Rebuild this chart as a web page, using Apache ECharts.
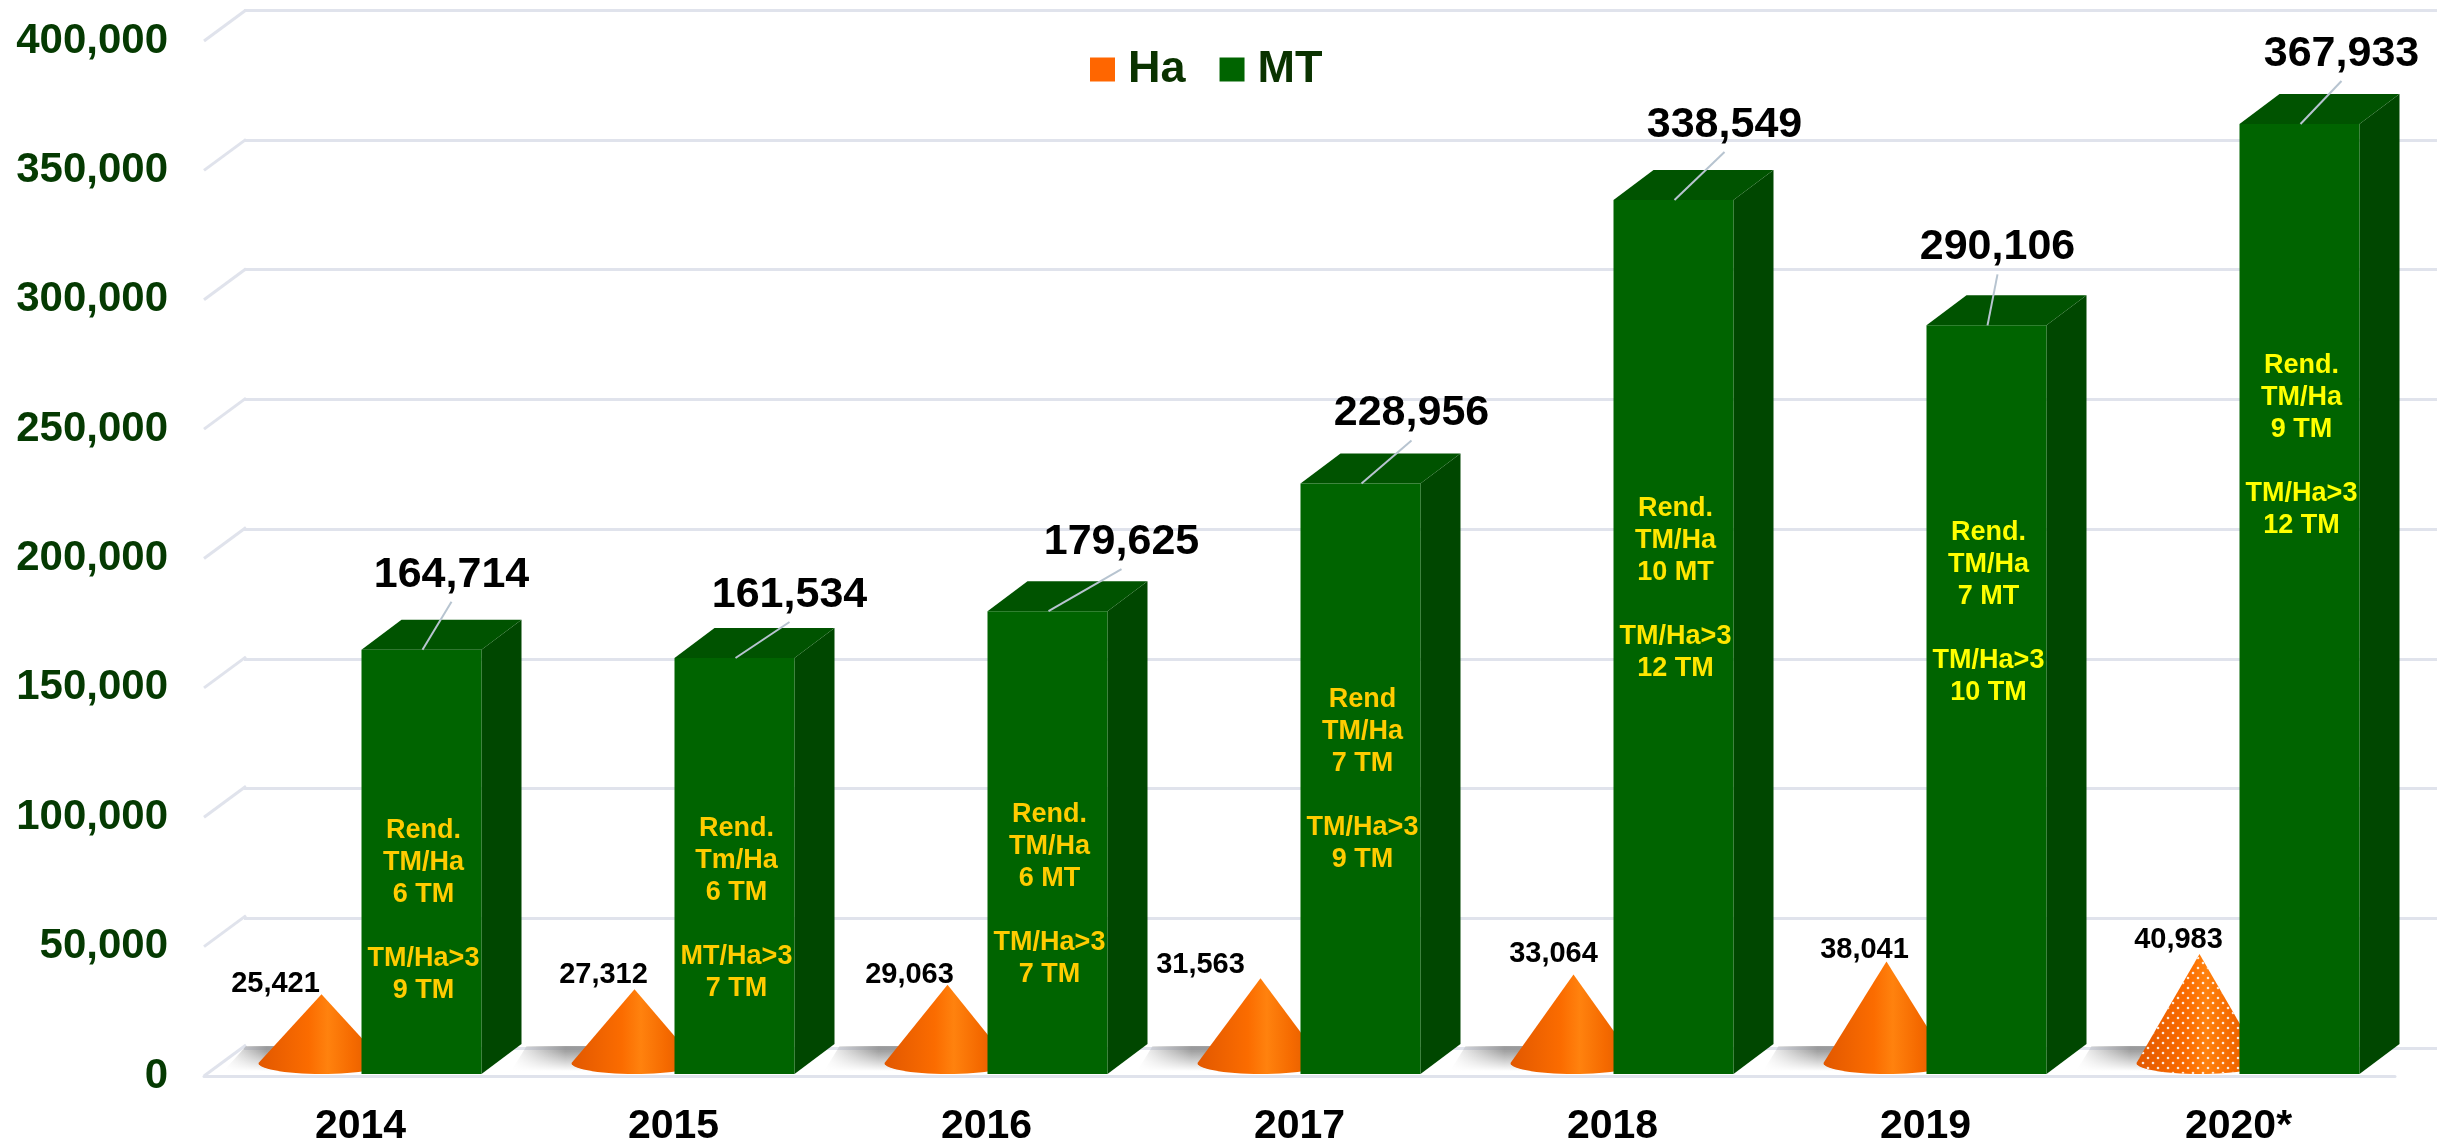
<!DOCTYPE html>
<html>
<head>
<meta charset="utf-8">
<script src="https://cdn.jsdelivr.net/npm/echarts@6/dist/echarts.min.js"></script>
<style>
  html,body{margin:0;padding:0;background:#fff}
  #main{width:2440px;height:1147px}
</style>
</head>
<body>
<div id="main"></div>
<script>
const years = ['2014','2015','2016','2017','2018','2019','2020*']
const ha = [25421,27312,29063,31563,33064,38041,40983]
const mt = [164714,161534,179625,228956,338549,290106,367933]
const yTicks = [0,50000,100000,150000,200000,250000,300000,350000,400000]
const notes = [
  'Rend.\nTM/Ha\n6 TM\n\nTM/Ha>3\n9 TM',
  'Rend.\nTm/Ha\n6 TM\n\nMT/Ha>3\n7 TM',
  'Rend.\nTM/Ha\n6 MT\n\nTM/Ha>3\n7 TM',
  'Rend\nTM/Ha\n7 TM\n\nTM/Ha>3\n9 TM',
  'Rend.\nTM/Ha\n10 MT\n\nTM/Ha>3\n12 TM',
  'Rend.\nTM/Ha\n7 MT\n\nTM/Ha>3\n10 TM',
  'Rend.\nTM/Ha\n9 TM\n\nTM/Ha>3\n12 TM'
]
// where each note block is centred, in axis units
const noteLevel = [64000,64700,70000,114500,188500,179000,243500]
const noteColor = ['#ffcc00','#ffcc00','#ffcc00','#ffcc00','#ffe600','#ffff00','#ffff00']
// label offsets in px: from the top of the bar, from the tip of the cone
const mtLabelOff = [[30,-75],[55,-63],[74,-69],[51,-70],[51,-75],[11,-78],[42,-70]]
const haLabelOff = [[-46,-10],[-31,-14],[-38,-10],[-60,-13],[-20,-20],[-22,-12],[-21,-14]]

const FONT = '"Liberation Sans", Arial, sans-serif'
const DEPTH_X = 40, DEPTH_Y = 30
const BAR_W = 120, BAR_OFF = 61, BASE_GAP = 2
const CONE_OFF = -39, CONE_R = 63, CONE_RY = 11, CONE_LIFT = 16
const GRID_LINE = '#e0e3ec'

// white dots of the 2020 cone
const dots = document.createElement('canvas')
dots.width = 10; dots.height = 10
const dc = dots.getContext('2d')
dc.fillStyle = 'rgba(255,255,255,.85)'
dc.beginPath(); dc.arc(3,3,1.3,0,Math.PI*2); dc.fill()
dc.beginPath(); dc.arc(8,8,1.3,0,Math.PI*2); dc.fill()

const chart = echarts.init(document.getElementById('main'))

function drawBar(params, api){
  const i = api.value(0)
  const top = api.coord([i, api.value(1)])
  const base = api.coord([i, 0])
  const x0 = top[0] + BAR_OFF - BAR_W/2
  const x1 = x0 + BAR_W
  const yT = top[1], yB = base[1] - BASE_GAP
  const off = mtLabelOff[i]
  const cx = (x0 + x1)/2
  const lx = cx + off[0], ly = yT + off[1]
  return {
    type:'group',
    children:[
      {type:'polygon', shape:{points:[[x1,yT],[x1+DEPTH_X,yT-DEPTH_Y],[x1+DEPTH_X,yB-DEPTH_Y],[x1,yB]]},
        style:{fill:'#004700'}},
      {type:'polygon', shape:{points:[[x0,yT],[x0+DEPTH_X,yT-DEPTH_Y],[x1+DEPTH_X,yT-DEPTH_Y],[x1,yT]]},
        style:{fill:'#005300'}},
      {type:'rect', shape:{x:x0,y:yT,width:BAR_W,height:yB-yT},
        style:{fill:'#006400'}},
      {type:'line', shape:{x1:cx+1,y1:yT,x2:lx,y2:ly+27},
        style:{stroke:'#b7c4d0', lineWidth:2}},
      {type:'text', style:{x:cx+2, y:api.coord([i,noteLevel[i]])[1], text:notes[i], fill:noteColor[i],
        font:'bold 27px '+FONT, align:'center', verticalAlign:'middle', lineHeight:32}},
      {type:'text', style:{x:lx, y:ly, text:api.value(1).toLocaleString('en-US'), fill:'#000',
        font:'bold 43px '+FONT, align:'center', verticalAlign:'middle'}}
    ]
  }
}

function drawCone(params, api){
  const i = api.value(0)
  const tip = api.coord([i, api.value(1)])
  const base = api.coord([i, 0])
  const floorY = base[1] - BASE_GAP
  const cx = tip[0] + CONE_OFF
  const cy = floorY - CONE_RY
  const tipY = tip[1] - CONE_LIFT
  const pts = [[cx, tipY]]
  for(let a = 0; a <= 180; a += 6){
    const r = a*Math.PI/180
    pts.push([cx + CONE_R*Math.cos(r), cy + CONE_RY*Math.sin(r)])
  }
  const left = cx - CONE_R
  const fill = new echarts.graphic.LinearGradient(0,0,1,0,[
    {offset:0,color:'#e25800'},{offset:.4,color:'#fb6c00'},
    {offset:.55,color:'#ff820e'},{offset:.75,color:'#f56a00'},{offset:1,color:'#d85400'}
  ])
  const shade = new echarts.graphic.LinearGradient(0,0,1,0,[
    {offset:0,color:'rgba(130,130,130,0)'},{offset:.45,color:'rgba(130,130,130,.75)'},{offset:1,color:'rgba(130,130,130,.75)'}
  ])
  const fade = new echarts.graphic.LinearGradient(0,0,0,1,[
    {offset:.2,color:'rgba(255,255,255,0)'},{offset:1,color:'rgba(255,255,255,1)'}
  ])
  // floor shadow stays inside the floor on the first cone
  const minTop = params.coordSys.x + DEPTH_X + 2
  const minBot = params.coordSys.x + 20
  const sh = [
    [Math.max(left-60,minBot), base[1]-5],
    [Math.max(left-45,minTop), base[1]-DEPTH_Y],
    [left+60, base[1]-DEPTH_Y],
    [left+60, base[1]-5]
  ]
  const kids = [
    {type:'polygon', shape:{points:sh}, style:{fill:shade}},
    {type:'polygon', shape:{points:sh}, style:{fill:fade}},
    {type:'polygon', shape:{points:pts}, style:{fill:fill}}
  ]
  if(i === years.length-1){
    kids.push({type:'polygon', shape:{points:pts}, style:{fill:{image:dots, repeat:'repeat'}}})
  }
  const off = haLabelOff[i]
  kids.push({type:'text', style:{x:cx+off[0], y:tipY+off[1], text:api.value(1).toLocaleString('en-US'),
    fill:'#000', font:'bold 29px '+FONT, align:'center', verticalAlign:'middle'}})
  return {type:'group', children:kids}
}

// slanted ends of the back wall lines, on the left
function drawSlant(params, api){
  const p = api.coord([0, api.value(0)])
  const x = params.coordSys.x
  return {type:'line', shape:{x1:x,y1:p[1],x2:x+DEPTH_X+2,y2:p[1]-DEPTH_Y-1},
    style:{stroke:GRID_LINE, lineWidth:3}}
}

chart.setOption({
  animation:false,
  backgroundColor:'#fff',
  textStyle:{fontFamily:FONT},
  legend:{
    left:1090, top:47, padding:0, itemWidth:25, itemHeight:24, itemGap:34,
    selectedMode:false, icon:'rect',
    data:['Ha','MT'],
    textStyle:{fontSize:45, fontWeight:'bold', color:'#0a3300', fontFamily:FONT, padding:[0,0,0,8]}
  },
  grid:[
    {left:204, right:45, top:41, bottom:68},
    {left:244, right:3, top:10, bottom:99}
  ],
  xAxis:[
    {type:'category', data:years, gridIndex:0,
      axisLine:{lineStyle:{color:GRID_LINE,width:3}}, axisTick:{show:false},
      axisLabel:{fontSize:41,fontWeight:'bold',color:'#000',margin:30,fontFamily:FONT}},
    {type:'value', gridIndex:1, min:0, max:1, show:false}
  ],
  yAxis:[
    {type:'value', gridIndex:0, min:0, max:400000, interval:50000,
      axisLine:{show:false}, axisTick:{show:false}, splitLine:{show:false},
      axisLabel:{fontSize:42,fontWeight:'bold',color:'#053a02',margin:36,fontFamily:FONT,
        formatter:v=>v.toLocaleString('en-US')}},
    {type:'value', gridIndex:1, min:0, max:400000, interval:50000,
      axisLine:{show:false}, axisTick:{show:false}, axisLabel:{show:false},
      splitLine:{show:true,lineStyle:{color:GRID_LINE,width:3}}}
  ],
  series:[
    {type:'custom', name:'slant', xAxisIndex:0, yAxisIndex:0, clip:false, silent:true, z:1,
      data:yTicks.map(v=>[v]), encode:{y:0}, renderItem:drawSlant},
    {type:'custom', name:'Ha', xAxisIndex:0, yAxisIndex:0, clip:false, z:2,
      itemStyle:{color:'#ff6600'},
      data:ha.map((v,i)=>[i,v]), encode:{x:0,y:1}, renderItem:drawCone},
    {type:'custom', name:'MT', xAxisIndex:0, yAxisIndex:0, clip:false, z:3,
      itemStyle:{color:'#006400'},
      data:mt.map((v,i)=>[i,v]), encode:{x:0,y:1}, renderItem:drawBar}
  ]
})
</script>
</body>
</html>
